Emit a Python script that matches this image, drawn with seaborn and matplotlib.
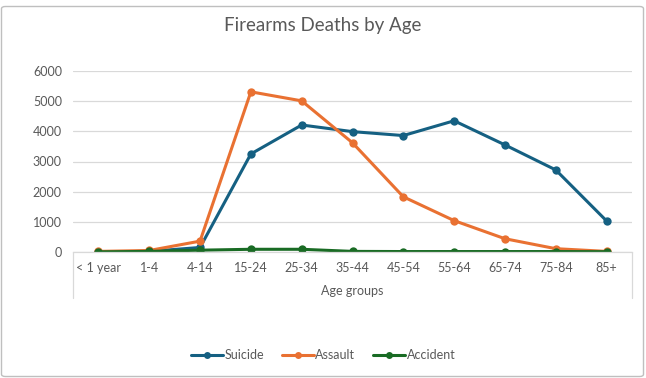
import matplotlib
matplotlib.use("Agg")
import matplotlib.pyplot as plt
from matplotlib.patches import FancyBboxPatch
from matplotlib.lines import Line2D
import seaborn as sns
import pandas as pd

categories = ["< 1 year", "1-4", "4-14", "15-24", "25-34", "35-44", "45-54", "55-64", "65-74", "75-84", "85+"]
suicide = [5, 20, 150, 3250, 4210, 3990, 3860, 4350, 3550, 2720, 1030]
assault = [20, 50, 360, 5310, 5010, 3620, 1830, 1040, 440, 110, 20]
accident = [5, 20, 60, 90, 90, 20, 15, 15, 15, 15, 10]
series_names = ["Suicide", "Assault", "Accident"]
colors = ["#156082", "#E97132", "#196B24"]
yticks = [0, 1000, 2000, 3000, 4000, 5000, 6000]

sns.set_theme(style="white")
plt.rcParams["font.family"] = ["Lato", "DejaVu Sans"]

rows = []
for name, vals in zip(series_names, [suicide, assault, accident]):
    for c, v in zip(categories, vals):
        rows.append({"Age": c, "Deaths": v, "Series": name})
df = pd.DataFrame(rows)

fig = plt.figure(figsize=(6.46, 3.78), dpi=100)
W, H = 646, 378
ax = fig.add_axes([73 / W, 1 - 252 / H, (632 - 73) / W, (252 - 71) / H])

sns.lineplot(data=df, x="Age", y="Deaths", hue="Series", palette=colors,
             marker="o", markersize=6, markeredgewidth=0, linewidth=2.2,
             sort=False, ax=ax, legend=False)

ax.set_xlim(-0.5, len(categories) - 0.5)
ax.set_ylim(0, 6000)
ax.set_yticks(yticks)
ax.set_yticklabels([str(t) for t in yticks])
ax.yaxis.grid(True, color="#d9d9d9", linewidth=0.9)
ax.set_axisbelow(True)
for s in ["top", "right", "left"]:
    ax.spines[s].set_visible(False)
ax.spines["bottom"].set_color("#d9d9d9")
ax.spines["bottom"].set_linewidth(0.9)
ax.tick_params(axis="both", length=0, colors="#595959", labelsize=9)
ax.tick_params(axis="y", pad=8)
ax.tick_params(axis="x", pad=7)
ax.set_ylabel("")
ax.set_xlabel("Age groups", color="#595959", fontsize=9, labelpad=8)

# category axis box lines
for xpix in (73, 632):
    fig.add_artist(Line2D([xpix / W, xpix / W], [1 - 252 / H, 1 - 298 / H],
                          color="#d9d9d9", linewidth=0.9, transform=fig.transFigure))

fig.text(0.5, 1 - 25 / H, "Firearms Deaths by Age", ha="center", va="center",
         fontsize=13.5, color="#595959")

handles = [Line2D([0], [0], color=c, marker="o", markersize=5, markeredgewidth=0, linewidth=2.2)
           for c in colors]
leg = fig.legend(handles, series_names, loc="center", bbox_to_anchor=(0.5, 1 - 355 / H),
                 ncol=3, frameon=False, fontsize=9, handlelength=2.6, handletextpad=0.1,
                 columnspacing=1.4)
for t in leg.get_texts():
    t.set_color("#595959")

border = FancyBboxPatch((1.5 / W, 1.5 / H), (W - 4) / W, (H - 8) / H,
                        boxstyle="round,pad=0,rounding_size=0.006",
                        transform=fig.transFigure, facecolor="none",
                        edgecolor="#bfbfbf", linewidth=1.0)
fig.add_artist(border)

fig.savefig("out.png", dpi=100)
